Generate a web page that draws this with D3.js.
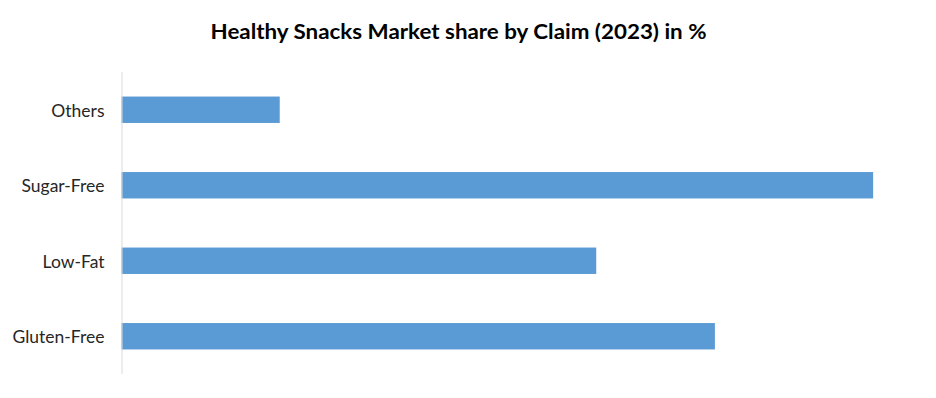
<!DOCTYPE html>
<html>
<head>
<meta charset="utf-8">
<script src="https://cdn.jsdelivr.net/npm/d3@7"></script>
<style>
  html, body { margin: 0; padding: 0; background: #fff; }
  svg { display: block; }
</style>
</head>
<body>
<svg id="chart" width="936" height="398"></svg>
<script>
const title = "Healthy Snacks Market share by Claim (2023) in %";
const categories = ["Others", "Sugar-Free", "Low-Fat", "Gluten-Free"];
const shares = [8, 38, 24, 30];
const xDomain = [0, 40];

const W = 936, H = 398;
const margin = { left: 121.5, right: 23.3, top: 72, bottom: 24 };
const svg = d3.select("#chart");
svg.append("rect").attr("width", W).attr("height", H).attr("fill", "#fff");

const x = d3.scaleLinear().domain(xDomain).range([margin.left, W - margin.right]);
const y = d3.scaleBand().domain(categories)
  .range([margin.top, H - margin.bottom])
  .paddingInner(0.65).paddingOuter(0.325);

// bars
svg.append("g").selectAll("rect")
  .data(categories.map((c, i) => ({ c, v: shares[i] })))
  .join("rect")
  .attr("x", x(0))
  .attr("y", d => y(d.c))
  .attr("width", d => x(d.v) - x(0))
  .attr("height", y.bandwidth())
  .attr("fill", "#5B9BD5");

// y axis
const yAxis = d3.axisLeft(y).tickSize(0).tickPadding(17);
const gy = svg.append("g").attr("transform", `translate(${x(0)},0)`).call(yAxis);
gy.select(".domain").attr("stroke", "#d9d9d9").attr("stroke-width", 1)
  .attr("d", `M0.5,${margin.top}V${H - margin.bottom}`);
gy.selectAll("text")
  .attr("font-family", "Lato, 'Open Sans', sans-serif")
  .attr("font-size", 17.5)
  .attr("fill", "#262626")
  .attr("dy", "0.4em");

// title
const t = svg.append("text")
  .attr("x", 458.5).attr("y", 39)
  .attr("text-anchor", "middle")
  .attr("font-family", "Lato, 'Open Sans', sans-serif")
  .attr("font-weight", "bold")
  .attr("font-size", 20)
  .attr("fill", "#000")
  .text(title);
t.attr("textLength", 496).attr("lengthAdjust", "spacingAndGlyphs");
</script>
</body>
</html>
